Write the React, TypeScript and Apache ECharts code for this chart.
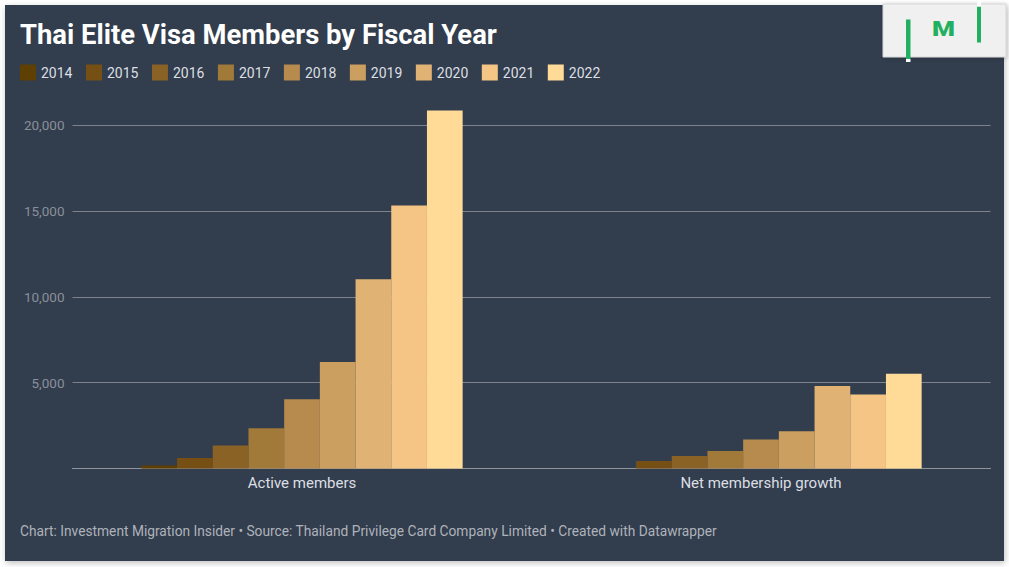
import React, { useEffect, useRef } from "react";
import * as echarts from "echarts";

const categories = ["Active members", "Net membership growth"];
const years = ["2014", "2015", "2016", "2017", "2018", "2019", "2020", "2021", "2022"];
const activeMembers = [174, 605, 1337, 2349, 4035, 6203, 11012, 15314, 20837];
const netGrowth: (number | null)[] = [null, 431, 732, 1012, 1686, 2168, 4809, 4302, 5523];
const yearColors = ["#5f4004", "#764f15", "#8b6226", "#a17939", "#b68b4d", "#cb9f5f", "#e0b273", "#f4c585", "#ffdb97"];
const yTicks = [0, 5000, 10000, 15000, 20000];

const title = "Thai Elite Visa Members by Fiscal Year";
const footer = "Chart: Investment Migration Insider \u2022 Source: Thailand Privilege Card Company Limited \u2022 Created with Datawrapper";

export default function App() {
  const ref = useRef<HTMLDivElement>(null);
  useEffect(() => {
    if (!ref.current) return;
    const chart = echarts.init(ref.current, undefined, { renderer: "svg" });
    const series = years.map((y, i) => ({
      name: y,
      type: "bar",
      data: [activeMembers[i], netGrowth[i] == null ? "-" : netGrowth[i]],
      itemStyle: { color: yearColors[i] },
      barGap: "0%",
      barCategoryGap: "30%",
      clip: false,
    }));
    const green = "#22b060";
    chart.setOption({
      animation: false,
      backgroundColor: "#ffffff",
      textStyle: { fontFamily: "Roboto" },
      graphic: [
        {
          type: "rect",
          z: -10,
          shape: { x: 5, y: 5, width: 999, height: 556 },
          style: { fill: "#333d4e", shadowBlur: 6, shadowColor: "rgba(0,0,0,0.25)", shadowOffsetX: 1, shadowOffsetY: 2 },
          silent: true,
        },
        {
          type: "text",
          x: 20,
          y: 35,
          style: { text: title, fill: "#ffffff", font: "bold 27.4px Roboto", verticalAlign: "middle" },
        },
        {
          type: "text",
          x: 20,
          y: 531,
          style: { text: footer, fill: "#aeb3bb", font: "13.75px Roboto", verticalAlign: "middle" },
        },
        {
          type: "rect",
          shape: { x: 883, y: 4, width: 123, height: 53 },
          style: { fill: "#f0f0f0", stroke: "#d6d6d6", lineWidth: 1, shadowBlur: 4, shadowColor: "rgba(0,0,0,0.2)", shadowOffsetX: 1, shadowOffsetY: 1 },
        },
        {
          type: "rect",
          shape: { x: 906, y: 19.5, width: 4.5, height: 39.5 },
          style: { fill: green },
        },
        {
          type: "rect",
          shape: { x: 906, y: 59, width: 4.5, height: 3 },
          style: { fill: "#ffffff" },
        },
        {
          type: "rect",
          shape: { x: 977, y: 6.5, width: 4, height: 36 },
          style: { fill: green },
        },
        {
          type: "rect",
          shape: { x: 977, y: 0, width: 4, height: 6.5 },
          style: { fill: "#ffffff" },
        },
        {
          type: "text",
          x: 943.5,
          y: 29,
          scaleX: 1.25,
          originX: 0,
          originY: 0,
          style: { text: "M", fill: green, font: "900 21px Roboto", align: "center", verticalAlign: "middle" },
        },
      ],
      legend: {
        left: 15,
        top: 59.5,
        itemWidth: 16,
        itemHeight: 16,
        itemGap: 13.5,
        icon: "rect",
        textStyle: { color: "#dcdfe4", fontSize: 14, fontFamily: "Roboto" },
        data: years,
      },
      grid: { left: 72.5, right: 18.5, top: 125, bottom: 98.5 },
      xAxis: {
        type: "category",
        data: categories,
        axisLine: { show: true, lineStyle: { color: "#8f939a", width: 1 } },
        axisTick: { show: false },
        axisLabel: { color: "#dcdfe4", fontSize: 15, margin: 7, fontFamily: "Roboto" },
      },
      yAxis: {
        type: "value",
        min: 0,
        max: yTicks[yTicks.length - 1],
        interval: 5000,
        axisLine: { show: false },
        axisTick: { show: false },
        splitLine: { lineStyle: { color: "#7e838b", width: 1 } },
        axisLabel: {
          color: "#8a909a",
          fontSize: 13.5,
          margin: 8,
          fontFamily: "Roboto",
          formatter: (v: number) => (v === 0 ? "" : v.toLocaleString("en-US")),
        },
      },
      series,
    });
    return () => chart.dispose();
  }, []);
  return (
    <div
      ref={ref}
      style={{ position: "fixed", left: 0, top: 0, width: 1009, height: 567 }}
    />
  );
}
